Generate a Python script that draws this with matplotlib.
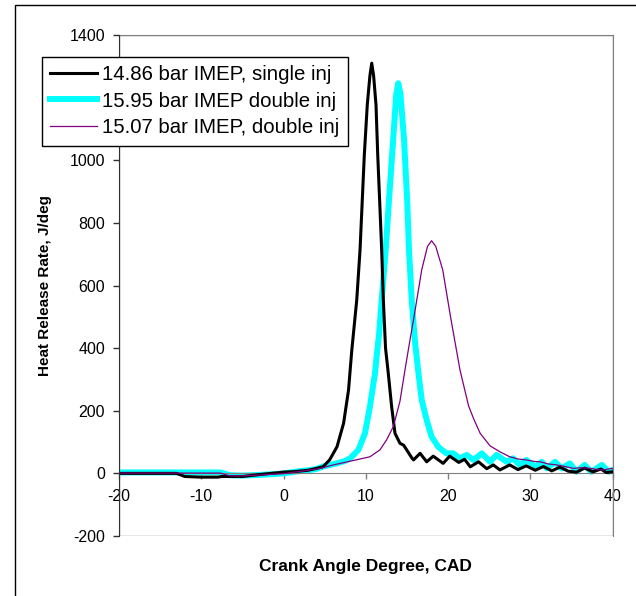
import matplotlib

matplotlib.use("Agg")
import matplotlib.pyplot as plt
from matplotlib.patches import Rectangle

plt.rcParams["font.family"] = ["Liberation Sans", "DejaVu Sans"]
plt.rcParams["axes.unicode_minus"] = False

# 14.86 bar IMEP, single injection
single_cad = [-20, -13, -12, -10, -8, -7.5, -5, -3, -1.5, 0, 1.5, 3, 4, 4.8, 5.6,
              6.5, 7.3, 7.9, 8.3, 8.9, 9.3, 9.55, 9.82, 10.18, 10.5, 10.72,
              10.95, 11.24, 11.45, 11.7, 11.93, 12.13, 12.4, 12.73, 13.14, 13.55,
              14.15, 14.6, 14.97, 15.58, 15.8, 16.6, 17.4, 18.2, 19.4, 20.2, 21.3,
              22.0, 22.7, 23.7, 24.7, 25.5, 26.3, 27.5, 28.5, 29.5, 30.6, 31.6,
              32.6, 33.6, 34.6, 35.6, 36.6, 37.6, 38.6, 39.2, 40]
single_hrr = [0, 0, -10, -12, -12, -10, -10, -4, 0, 4, 6, 10, 16, 21, 43,
              85, 160, 266, 394, 554, 714, 860, 1017, 1177, 1270, 1310,
              1270, 1177, 1017, 860, 714, 554, 400, 320, 213, 128,
              96, 90, 75, 50, 43, 64, 37, 55, 32, 55, 35,
              45, 21, 37, 15, 27, 11, 27, 12, 24, 10, 22,
              8, 20, 7, 4, 17, 5, 14, 3, 5]

# 15.95 bar IMEP, double injection
double_cad = [-20, -7.7, -6.5, -5, -3, -1, 0, 1.6, 3, 4, 4.8, 5.5, 6.5, 7.5, 8.1,
              9.1, 9.9, 10.5, 11.12, 11.4, 11.6, 11.93, 12.42, 12.82, 13.34, 13.7,
              13.95, 14.2, 14.64, 15.03, 15.25, 15.58, 15.98, 16.4, 16.8, 17.4,
              18.0, 18.8, 19.4, 19.8, 20.6, 21.45, 22.26, 23.1, 24.1, 25.1, 25.9,
              27.1, 27.9, 28.7, 29.5, 30.6, 31.4, 32.0, 33.0, 33.8, 34.8, 35.6,
              36.6, 37.4, 38.7, 39.5, 40]
double_hrr = [3, 3, -6, -7, -5, -2, 0, 6, 10, 14, 22, 26, 32, 40, 48,
              75, 128, 213, 320, 394, 440, 554, 714, 873, 1070, 1210,
              1246, 1215, 1070, 873, 714, 554, 420, 320, 234, 170,
              117, 85, 72, 64, 64, 48, 59, 43, 64, 37, 59,
              37, 48, 27, 43, 21, 37, 16, 37, 16, 32, 5,
              27, 5, 27, 5, 11]

# 15.07 bar IMEP, double injection
double2_cad = [-20, -7.7, -6.5, -4.9, -2.9, 0, 1.6, 3, 4.43, 6.05, 8.48, 10.5,
               11.72, 12.53, 13.34, 14.15, 14.76, 15.37, 15.86, 16.8, 17.5, 18.0,
               18.5, 19.35, 20.3, 21.45, 22.5, 23.1, 23.9,
               25.1, 26.3, 27.5, 28.5, 29.5, 30.5, 31.2, 32.2, 33.2, 34.2, 35.2,
               36.2, 37.3, 38.2, 38.9, 39.9, 40]
double2_hrr = [1, 1, -8, -8, -5, -1, 5, 10, 16, 27, 41, 53,
               75, 107, 149, 230, 330, 426, 500, 650, 725, 743,
               725, 650, 500, 330, 215, 175, 128,
               88, 69, 53, 46, 43, 38, 37, 30, 27, 22, 16,
               18, 16, 12, 11, 16, 14]

x_ticks = [-20, -10, 0, 10, 20, 30, 40]
y_ticks = [-200, 0, 200, 400, 600, 800, 1000, 1200, 1400]

fig = plt.figure(figsize=(6.36, 5.96), dpi=100)
ax = fig.add_axes([119 / 636, 1 - 536 / 596, 493.6 / 636, 501 / 596])

ax.plot(single_cad, single_hrr, color="black", lw=2.2,
        label="14.86 bar IMEP, single inj", zorder=3)
ax.plot(double_cad, double_hrr, color="#00FFFF", lw=4.3,
        label="15.95 bar IMEP double inj", zorder=2)
ax.plot(double2_cad, double2_hrr, color="#800080", lw=0.9,
        label="15.07 bar IMEP, double inj", zorder=4)

ax.set_xlim(-20, 40)
ax.set_ylim(-200, 1400)
ax.set_xticks(x_ticks)
ax.set_yticks(y_ticks)

# category axis crosses at zero, plot area border in grey
ax.spines["bottom"].set_position(("data", 0))
ax.spines["bottom"].set_color("#808080")
ax.spines["top"].set_color("#808080")
ax.spines["right"].set_color("#808080")
ax.spines["left"].set_color("#303030")
ax.spines["left"].set_zorder(5)
ax.add_patch(Rectangle((0, 0), 1, 1, transform=ax.transAxes, fill=False,
                       edgecolor="#808080", lw=1, zorder=0))

ax.tick_params(axis="x", direction="out", length=4.5, width=1, color="#808080",
               pad=7, labelsize=11.5)
ax.tick_params(axis="y", direction="out", length=4, width=1, color="#303030",
               pad=6, labelsize=11.5)

ax.set_xlabel("Crank Angle Degree, CAD", fontsize=12.5, fontweight="bold")
ax.xaxis.set_label_coords(0.5, -0.046)
ax.set_ylabel("Heat Release Rate, J/deg", fontsize=11, fontweight="bold")
ax.yaxis.set_label_coords(-0.136, 0.5)

leg = ax.legend(loc="upper left", bbox_to_anchor=(41.7 / 636, 1 - 56.7 / 596),
                bbox_transform=fig.transFigure, borderaxespad=0, fontsize=14.7,
                frameon=True, fancybox=False, handlelength=2.3,
                handletextpad=0.22, labelspacing=0.36, borderpad=0.42,
                framealpha=1)
leg.get_frame().set_edgecolor("black")
leg.get_frame().set_linewidth(1)
leg.set_zorder(10)

# outer chart frame
fig.patches.append(Rectangle((15 / 636, -0.2), 1.2, 1.2 - 5 / 596,
                             transform=fig.transFigure, fill=False,
                             edgecolor="black", lw=1))

fig.savefig("out.png", dpi=100)
